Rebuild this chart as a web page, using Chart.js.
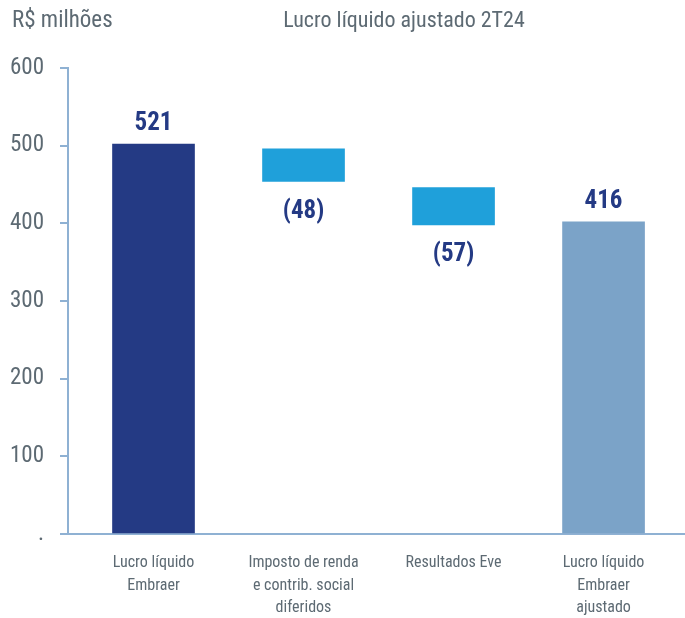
<!DOCTYPE html>
<html>
<head>
<meta charset="utf-8">
<script src="https://cdn.jsdelivr.net/npm/chart.js@4"></script>
<style>
  body { margin: 0; background: #fff; }
</style>
</head>
<body>
<canvas id="myChart" width="685" height="618"></canvas>
<script>
// categories (one array of lines per bar)
const categories = [
    ['Lucro líquido', 'Embraer'],
    ['Imposto de renda', 'e contrib. social', 'diferidos'],
    ['Resultados Eve'],
    ['Lucro líquido', 'Embraer', 'ajustado']
];
// bar extents as drawn in the picture (R$ milhões)
const barStart = [0, 496, 446, 0];
const barEnd = [502, 454, 398, 402];
// printed values
const valueLabels = ['521', '(48)', '(57)', '416'];
// y axis ticks
const yTickValues = [0, 100, 200, 300, 400, 500, 600];
const yTickLabels = ['.', '100', '200', '300', '400', '500', '600'];

const barColors = ['#243a84', '#1fa0da', '#1fa0da', '#7ba3c8'];
const FONT = "'Roboto Condensed', 'Liberation Sans Narrow', 'DejaVu Sans Condensed', sans-serif";
const GREY = '#5d6a73';
const NAVY = '#243a84';
const AXIS = '#8fb1d3';

const ctx = document.getElementById('myChart');

// header texts
const headerPlugin = {
    id: 'header',
    afterDraw(chart) {
        const c = chart.ctx;
        c.save();
        c.fillStyle = GREY;
        c.textBaseline = 'alphabetic';
        c.textAlign = 'left';
        c.font = '23px ' + FONT;
        c.fillText('R$ milhões', 12, 27);
        c.textAlign = 'center';
        c.font = '22px ' + FONT;
        c.fillText('Lucro líquido ajustado 2T24', 404, 27);
        c.restore();
    }
};

// value labels above / below the bars
const valuePlugin = {
    id: 'values',
    afterDatasetsDraw(chart) {
        const c = chart.ctx;
        const meta = chart.getDatasetMeta(0);
        c.save();
        c.fillStyle = NAVY;
        c.font = 'bold 25px ' + FONT;
        c.textAlign = 'center';
        c.textBaseline = 'middle';
        meta.data.forEach((bar, i) => {
            const goesDown = barEnd[i] < barStart[i];
            const y = goesDown ? Math.max(bar.y, bar.base) + 30 : Math.min(bar.y, bar.base) - 20;
            c.fillText(valueLabels[i], bar.x, y);
        });
        c.restore();
    }
};

new Chart(ctx, {
    type: 'bar',
    data: {
        datasets: [{
            data: categories.map((c, i) => ({ x: i, y: [barStart[i], barEnd[i]] })),
            backgroundColor: barColors,
            borderWidth: 0,
            barThickness: 82
        }]
    },
    options: {
        responsive: false,
        animation: false,
        layout: { padding: { top: 68, right: 0, left: 0, bottom: 0 } },
        plugins: {
            legend: { display: false },
            tooltip: { enabled: false }
        },
        scales: {
            x: {
                type: 'linear',
                min: -0.57,
                max: 3.543,
                offset: false,
                afterBuildTicks: (scale) => { scale.ticks = categories.map((c, i) => ({ value: i })); },
                afterFit: (scale) => { scale.height = 84; },
                grid: { display: false, drawTicks: false },
                border: { display: true, color: AXIS, width: 2 },
                ticks: {
                    color: GREY,
                    font: { family: FONT, size: 16, lineHeight: 1.4 },
                    padding: 18,
                    maxRotation: 0,
                    autoSkip: false,
                    callback: (v) => categories[v]
                }
            },
            y: {
                min: 0,
                max: 600,
                afterBuildTicks: (scale) => { scale.ticks = yTickValues.map(v => ({ value: v })); },
                afterFit: (scale) => { scale.width = 68; },
                grid: { drawOnChartArea: false, color: AXIS, lineWidth: 2, tickLength: 8 },
                border: { display: true, color: AXIS, width: 2 },
                ticks: {
                    color: GREY,
                    font: { family: FONT, size: 23 },
                    padding: 16,
                    callback: (v) => yTickLabels[yTickValues.indexOf(v)]
                }
            }
        }
    },
    plugins: [headerPlugin, valuePlugin]
});
</script>
</body>
</html>
